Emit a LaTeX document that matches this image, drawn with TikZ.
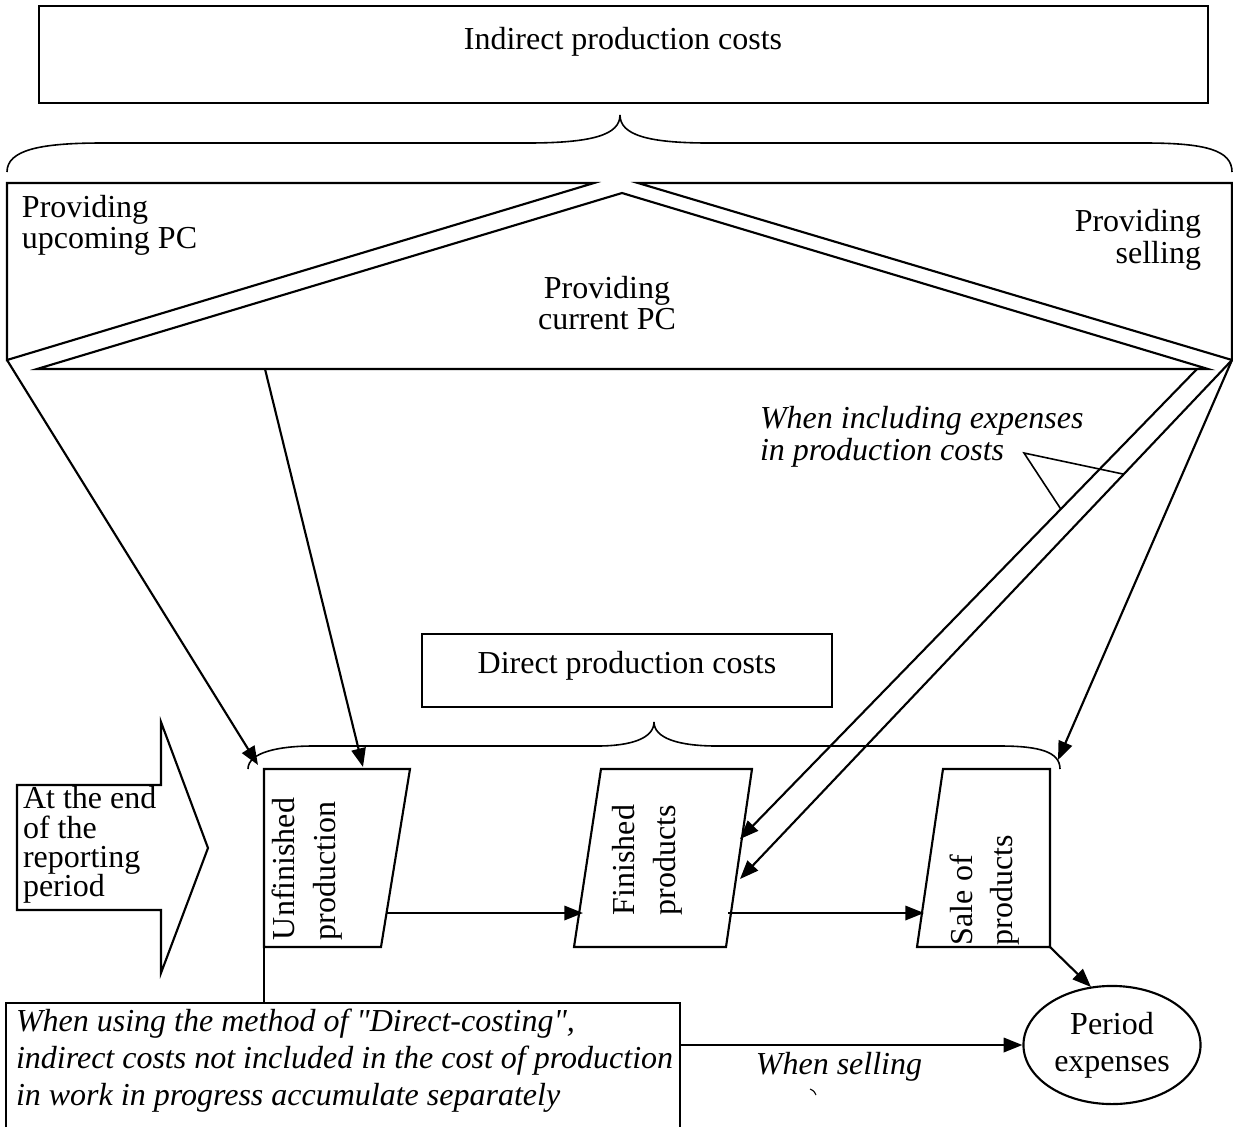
\documentclass[tikz,border=0pt]{standalone}
\usepackage{fontspec}
\setmainfont{Liberation Serif}[Ligatures=TeXOff]
\usetikzlibrary{arrows.meta,shapes.geometric,calc}
\begin{document}
\begin{tikzpicture}[x=0.375pt,y=-0.375pt,
  ln/.style={line width=0.8pt, line join=miter},
  thinln/.style={line width=0.6pt},
  arr/.style={line width=0.8pt,-{Triangle[length=7pt,width=5.4pt]}},
  txt/.style={inner sep=0pt, outer sep=0pt},
]
\useasboundingbox (0,0) rectangle (1233,1127);

% ---- top box
\draw[ln] (39,6) rectangle (1208,103);
\node[txt, font=\fontsize{12}{14}\selectfont] (ipc) at (623,42) {Indirect production costs};

% ---- top brace
\draw[thinln] (7,172) .. controls (7,150) and (40,143) .. (102,143) -- (527,143)
  .. controls (592,143) and (620,135) .. (620,115)
  .. controls (620,135) and (648,143) .. (709,143) -- (1145,143)
  .. controls (1205,143) and (1232,150) .. (1232,172);

% ---- middle band
\draw[ln] (594,183) -- (7,183) -- (7,360) -- cycle;
\draw[ln] (638,183) -- (1232,183) -- (1232,360) -- cycle;
\draw[ln] (622,193) -- (37,369) -- (1208,369) -- cycle;
\coordinate (cL) at (7,360);
\coordinate (cR) at (1232,360);
\coordinate (hA) at (265,369);
\coordinate (hB) at (1197,369);

\node[txt, anchor=west, align=left, font=\fontsize{12}{10.5}\selectfont] (pu) at (22,225) {Providing\\upcoming PC};
\node[txt, align=center, font=\fontsize{12}{11.6}\selectfont] (pc) at (607,303) {Providing\\current PC};
\node[txt, anchor=east, align=right, font=\fontsize{12}{10.5}\selectfont] (ps) at (1201,240) {Providing\\selling};

% ---- callout text
\node[txt, anchor=west, align=left, font=\fontsize{12}{12}\selectfont\itshape] (wi) at (760,437) {When including expenses\\in production costs};
\coordinate (apex) at (1024,453);

% ---- direct production costs
\draw[ln] (422,634) rectangle (832,707);
\node[txt, font=\fontsize{12}{14}\selectfont] (dpc) at (627,666) {Direct production costs};

% ---- lower brace
\draw[thinln] (248,769) .. controls (248,752) and (280,746) .. (313,746) -- (597,746)
  .. controls (632,746) and (654,738) .. (654,722)
  .. controls (654,738) and (678,746) .. (717,746) -- (1000,746)
  .. controls (1040,746) and (1060,752) .. (1060,769);

% ---- block arrow
\draw[ln] (17,785) -- (161,785) -- (161,722) -- (208,848) -- (161,973) -- (161,910) -- (17,910) -- cycle;
\node[txt, anchor=west, align=left, font=\fontsize{12}{11}\selectfont] (eop) at (23,845) {At the end\\of the\\reporting\\period};

% ---- process shapes
\draw[ln] (264,769) -- (410,769) -- (381,947) -- (264,947) -- cycle;
\draw[ln] (264,947) -- (264,1003);
\draw[ln] (601,769) -- (752,769) -- (726,947) -- (574,947) -- cycle;
\draw[ln] (943,769) -- (1050,769) -- (1050,947) -- (917,947) -- cycle;

\node[txt, rotate=90, anchor=west, align=left, font=\fontsize{12}{15.4}\selectfont] (up) at (307,940) {Unfinished\\production};
\node[txt, rotate=90, align=center, font=\fontsize{12}{15.4}\selectfont] (fp) at (647,860) {Finished\\products};
\node[txt, rotate=90, anchor=west, align=left, font=\fontsize{12}{15}\selectfont] (sp) at (985,945) {Sale of\\products};

\coordinate (uTL) at (258,765);
\coordinate (uT) at (363,767);
\coordinate (uR) at (387,913);
\coordinate (fL) at (583,913);
\coordinate (fR) at (728,913);
\coordinate (fR1) at (740,839);
\coordinate (fR2) at (740,879);
\coordinate (sL) at (924,913);
\coordinate (sT) at (1058,760);
\coordinate (sBR) at (1050,947);

% ---- period expenses
\node[draw, ln, ellipse, inner sep=0pt, minimum width=66.4pt, minimum height=44.3pt, align=center, font=\fontsize{12}{14}\selectfont] (pe) at (1112,1045) {Period\\expenses};
\coordinate (peT) at (1091,987);

% ---- direct costing box
\draw[ln] (6,1127) -- (6,1003) -- (680,1003) -- (680,1127);
\node[txt, anchor=west, align=left, font=\fontsize{12}{13.9}\selectfont\itshape] (dc) at (16,1061) {When using the method of "Direct-costing",\\indirect costs not included in the cost of production\\in work in progress accumulate separately};
\coordinate (dcR) at (680,1045);

\node[txt, font=\fontsize{12}{14}\selectfont\itshape] (ws) at (839,1067) {When selling};
\draw[line width=0.4pt] (810,1089) .. controls (814,1091) .. (816,1095);

% ---- connectors
\draw[arr] (cL) -- (uTL);
\draw[arr] (hA) -- (uT);
\draw[arr] (hB) -- (fR1);
\draw[arr] (cR) -- (fR2);
\draw[arr] (cR) -- (sT);
\draw[arr] (uR) -- (fL);
\draw[arr] (fR) -- (sL);
\draw[arr] (sBR) -- (peT);
\draw[arr] (dcR) -- (pe.west);
\draw[thinln] ($(hB)!0.298!(fR1)$) -- (apex) -- ($(cR)!0.22!(fR2)$);

\end{tikzpicture}
\end{document}
